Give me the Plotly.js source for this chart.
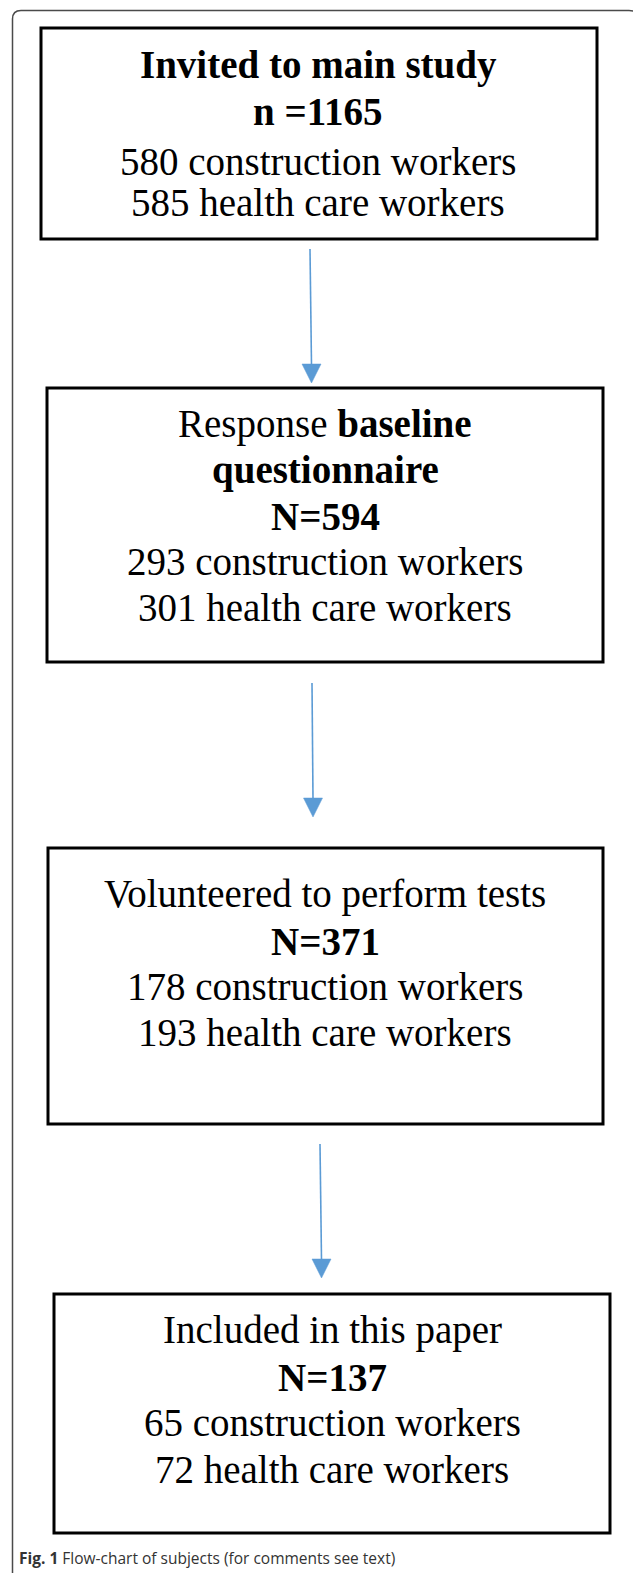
<!DOCTYPE html>
<html>
<head>
<meta charset="utf-8">
<script src="https://cdn.plot.ly/plotly-3.0.1.min.js"></script>
<style>
  html, body { margin: 0; padding: 0; background: #ffffff; overflow: hidden; }
  #chart { width: 633px; height: 1573px; }
</style>
</head>
<body>
<div id="chart"></div>
<script>
// ---------- data ----------
const stageTitleLines = [
  ["<b>Invited to main study</b>"],
  ["Response <b>baseline</b>", "<b>questionnaire</b>"],
  ["Volunteered to perform tests"],
  ["Included in this paper"]
];
const totalPrefix = ["n =", "N=", "N=", "N="];
const totals = [1165, 594, 371, 137];
const constructionWorkers = [580, 293, 178, 65];
const healthCareWorkers = [585, 301, 193, 72];
const captionBold = "Fig. 1";
const captionText = "Flow-chart of subjects (for comments see text)";

// ---------- layout geometry (pixels, y downwards) ----------
const W = 633, H = 1573;
const boxX0 = [41, 47, 48, 54];
const boxX1 = [597, 603, 603, 610];
const boxY0 = [28, 388, 848, 1294];
const boxY1 = [239, 662, 1124, 1533];
const textCenterX = [318, 325, 325, 332];
const lineBaselines = [
  [78, 124, 174, 215],
  [437, 483, 529, 574, 620],
  [907, 954, 999, 1045],
  [1343, 1390, 1435, 1482]
];
const arrowTopX = [310, 312, 320];
const arrowTipX = [311.5, 313, 321.5];
const arrowTopY = [249, 683, 1144];
const arrowTipY = [383, 817, 1278];
const headH = 19, headHalfW = 9.5;
const fontSize = 39;
const baselineToMiddle = 13;

const shapes = [];
const annotations = [];

// outer frame with rounded corners (right side lies just beyond the canvas)
shapes.push({
  type: "path", xref: "x", yref: "y",
  path: "M 12.5,1590 L 12.5,19 Q 12.5,10.5 21,10.5 L 629,10.5 Q 638,10.5 638,19 L 638,1590",
  line: { color: "#4a4a4a", width: 1.5 }
});

for (let i = 0; i < totals.length; i++) {
  shapes.push({
    type: "rect", xref: "x", yref: "y",
    x0: boxX0[i], x1: boxX1[i], y0: boxY0[i], y1: boxY1[i],
    line: { color: "#000000", width: 3 }, fillcolor: "rgba(0,0,0,0)"
  });
  const lines = stageTitleLines[i].concat([
    "<b>" + totalPrefix[i] + totals[i] + "</b>",
    constructionWorkers[i] + " construction workers",
    healthCareWorkers[i] + " health care workers"
  ]);
  lines.forEach((t, j) => {
    annotations.push({
      xref: "x", yref: "y", x: textCenterX[i], y: lineBaselines[i][j] - baselineToMiddle,
      xanchor: "center", yanchor: "middle", showarrow: false, text: t,
      font: { family: "'Liberation Serif', 'Times New Roman', serif", size: fontSize, color: "#000000" }
    });
  });
}

for (let k = 0; k < arrowTopX.length; k++) {
  const hx = arrowTipX[k], hy = arrowTipY[k];
  shapes.push({
    type: "line", xref: "x", yref: "y",
    x0: arrowTopX[k], y0: arrowTopY[k], x1: hx, y1: hy - headH + 1,
    line: { color: "#5b9bd5", width: 1.6 }
  });
  shapes.push({
    type: "path", xref: "x", yref: "y",
    path: "M " + (hx - headHalfW) + "," + (hy - headH) + " L " + (hx + headHalfW) + "," + (hy - headH) + " L " + hx + "," + hy + " Z",
    fillcolor: "#5b9bd5", line: { color: "#5b9bd5", width: 0.5 }
  });
}

annotations.push({
  xref: "x", yref: "y", x: 17, y: 1558,
  xanchor: "left", yanchor: "middle", showarrow: false,
  text: "<b>" + captionBold + "</b> " + captionText,
  font: { family: "'Open Sans', sans-serif", size: 15.5, color: "#333333" }
});

const layout = {
  width: W, height: H,
  margin: { l: 0, r: 0, t: 0, b: 0, pad: 0 },
  paper_bgcolor: "#ffffff", plot_bgcolor: "#ffffff",
  showlegend: false,
  xaxis: { range: [0, W], visible: false, fixedrange: true },
  yaxis: { range: [H, 0], visible: false, fixedrange: true },
  shapes: shapes,
  annotations: annotations
};

Plotly.newPlot("chart", [{ x: [], y: [], type: "scatter", mode: "markers", hoverinfo: "skip" }], layout,
  { staticPlot: true, displayModeBar: false });
</script>
</body>
</html>
